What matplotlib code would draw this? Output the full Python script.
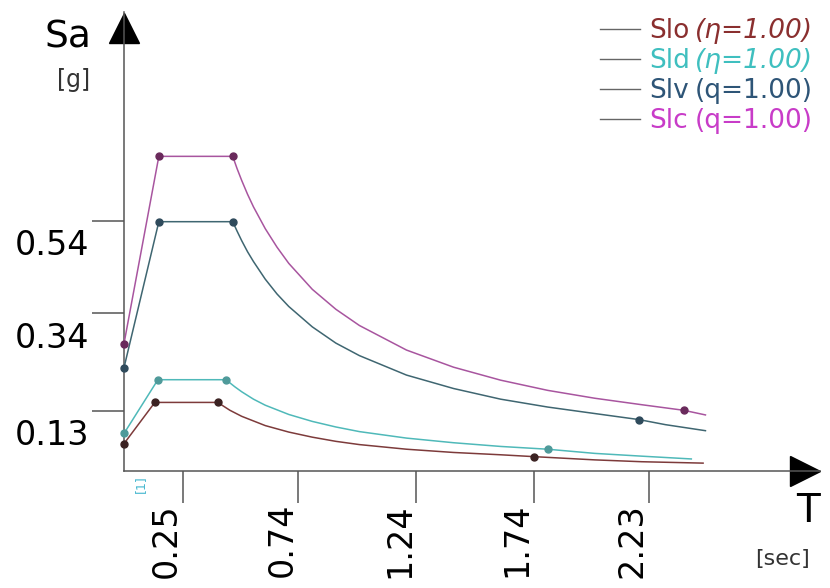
import numpy as np
import matplotlib.pyplot as plt

# response spectra: period T [s] and spectral acceleration Sa [g]
slo_T = [0.0, 0.131, 0.398, 0.45, 0.5, 0.6, 0.7, 0.8, 0.9, 1.0, 1.2, 1.4, 1.6, 1.741, 2.0, 2.2, 2.46]
slo_Sa = [0.059, 0.148, 0.148, 0.131, 0.118, 0.098, 0.084, 0.073, 0.064, 0.057, 0.047, 0.040, 0.035, 0.031, 0.024, 0.020, 0.017]
slo_corners = [0.0, 0.131, 0.398, 1.741]

sld_T = [0.0, 0.144, 0.433, 0.47, 0.5, 0.55, 0.6, 0.7, 0.8, 0.9, 1.0, 1.2, 1.4, 1.6, 1.80, 2.0, 2.2, 2.41]
sld_Sa = [0.081, 0.197, 0.197, 0.182, 0.171, 0.155, 0.142, 0.122, 0.107, 0.095, 0.085, 0.071, 0.061, 0.053, 0.047, 0.038, 0.032, 0.026]
sld_corners = [0.0, 0.144, 0.433, 1.80]

slv_T = [0.0, 0.148, 0.462, 0.48, 0.5, 0.525, 0.55, 0.6, 0.65, 0.7, 0.8, 0.9, 1.0, 1.2, 1.4, 1.6, 1.8, 2.0, 2.187, 2.3, 2.47]
slv_Sa = [0.223, 0.538, 0.538, 0.518, 0.497, 0.473, 0.452, 0.414, 0.382, 0.355, 0.311, 0.276, 0.249, 0.207, 0.178, 0.155, 0.138, 0.124, 0.111, 0.100, 0.087]
slv_corners = [0.0, 0.148, 0.462, 2.187]

slc_T = [0.0, 0.148, 0.462, 0.48, 0.5, 0.525, 0.55, 0.6, 0.65, 0.7, 0.8, 0.9, 1.0, 1.2, 1.4, 1.6, 1.8, 2.0, 2.2, 2.378, 2.47]
slc_Sa = [0.275, 0.679, 0.679, 0.653, 0.627, 0.597, 0.570, 0.523, 0.483, 0.448, 0.392, 0.349, 0.314, 0.261, 0.224, 0.196, 0.174, 0.157, 0.143, 0.131, 0.121]
slc_corners = [0.0, 0.148, 0.462, 2.378]

names = ["Slo", "Sld", "Slv", "Slc"]
params = ["(\u03b7=1.00)", "(\u03b7=1.00)", "(q=1.00)", "(q=1.00)"]
x_ticks = [0.25, 0.74, 1.24, 1.74, 2.23]
y_ticks = [0.13, 0.34, 0.54]

line_colors = ["#7d3b3b", "#4fb9b9", "#3f6671", "#a8559f"]
dot_colors = ["#3b2222", "#4f9a9a", "#2f4b5c", "#6a2a5c"]
text_colors = ["#8a2f2f", "#3fbfbf", "#2e5577", "#c83cc8"]

W, H = 830, 588


def fig_xy(x, y):
    # pixel position (from top-left) -> figure fraction
    return x / W, 1 - y / H


fig = plt.figure(figsize=(W / 100, H / 100), dpi=100)
ax = fig.add_axes([124 / W, (H - 471) / H, (820 - 124) / W, (471 - 12) / H])
ax.set_xlim(0, (820 - 124) / 235.4)
ax.set_ylim(0, (471 - 12) / 463.4)

for s in ["top", "right"]:
    ax.spines[s].set_visible(False)
for s in ["left", "bottom"]:
    ax.spines[s].set_color("#555555")
    ax.spines[s].set_linewidth(1.1)

ax.set_xticks(x_ticks)
ax.set_yticks(y_ticks)
ax.tick_params(direction="out", length=23, width=1.1, color="#555555",
               labelbottom=False, labelleft=False)

# axis arrows
ax.plot([0], [0.966], marker="^", ms=22, color="black", transform=ax.transAxes, clip_on=False)
ax.plot([0.978], [0], marker=">", ms=22, color="black", transform=ax.transAxes, clip_on=False)

series = [(slo_T, slo_Sa, slo_corners), (sld_T, sld_Sa, sld_corners),
          (slv_T, slv_Sa, slv_corners), (slc_T, slc_Sa, slc_corners)]
for (T, Sa, corners), lc, dc in zip(series, line_colors, dot_colors):
    T = np.array(T)
    Sa = np.array(Sa)
    ax.plot(T, Sa, color=lc, lw=1.1, clip_on=False, zorder=3)
    k = np.isin(T, corners)
    ax.plot(T[k], Sa[k], "o", ms=5, color=dc, clip_on=False, zorder=4)

# tick labels
for t in x_ticks:
    ax.annotate(f"{t:.2f}", xy=(t, 0), xycoords=("data", "axes fraction"),
                xytext=(-5, -23), textcoords="offset points", rotation=90,
                rotation_mode="anchor", ha="right", va="baseline", fontsize=24)
for v in y_ticks:
    ax.annotate(f"{v:.2f}", xy=(0, v), xycoords=("axes fraction", "data"),
                xytext=(-25, -25), textcoords="offset points",
                ha="right", va="baseline", fontsize=24)

# axis titles
fig.text(*fig_xy(67.5, 48), "Sa", ha="center", va="baseline", fontsize=27)
fig.text(*fig_xy(74, 87), "[g]", ha="center", va="baseline", fontsize=17, color="#333333")
fig.text(*fig_xy(807.5, 522), "T", ha="center", va="baseline", fontsize=28)
fig.text(*fig_xy(782.5, 565), "[sec]", ha="center", va="baseline", fontsize=16, color="#333333")
fig.text(*fig_xy(140, 484), "[1]", ha="center", va="center", rotation=90,
         fontsize=9, color="#49b9d0")

# legend
row_y = [29, 59, 89, 119]
for name, par, tc, y in zip(names, params, text_colors, row_y):
    x0, yy = fig_xy(600, y)
    x1, _ = fig_xy(640, y)
    fig.lines.append(plt.Line2D([x0, x1], [yy, yy], color="#666666", lw=1.0,
                                transform=fig.transFigure))
    fig.text(*fig_xy(649, y + 9.5), name, ha="left", va="baseline",
             fontsize=19, color=tc)
    style = "italic" if "\u03b7" in par else "normal"
    fig.text(*fig_xy(695, y + 9.5), par, ha="left", va="baseline",
             fontsize=19, color=tc, style=style)

fig.savefig("out.png", dpi=100, facecolor="white")
